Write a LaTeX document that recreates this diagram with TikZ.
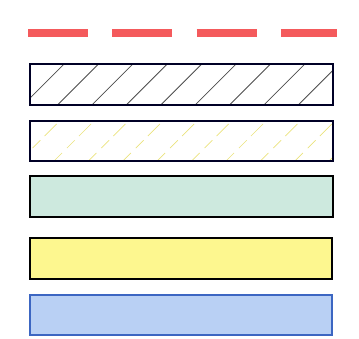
\documentclass[tikz,border=0pt]{standalone}
\begin{document}
\begin{tikzpicture}[x=1pt,y=-1pt,
  bar/.style={draw=black, line width=1.3pt},
  hatchline/.style={line width=0.8pt, draw=black!70},
  yhatch/.style={line width=0.7pt, draw=paleyline, dash pattern=on 17pt off 7pt on 11pt off 6pt},
]
\definecolor{dashred}{HTML}{F45A5C}
\definecolor{mint}{HTML}{CDE9DE}
\definecolor{paleyellow}{HTML}{FDF78F}
\definecolor{paleblue}{HTML}{B9D0F4}
\definecolor{edgeblue}{HTML}{3C66C2}
\definecolor{paleyline}{HTML}{EAE27C}
\useasboundingbox (0,0) rectangle (359,339);
% dashed red line
\coordinate (dl) at (28,33);
\coordinate (dr) at (337,33);
\draw[dashred, line width=8pt, dash pattern=on 60pt off 24.3pt] (dl) -- (dr);
% box 1: black hatch
\begin{scope}
  \clip (30,64) rectangle (333,105);
  \foreach \i in {-1,...,9} {
    \draw[hatchline] ({57.5+34.4*\i-4},109) -- ({57.5+34.4*\i+44},61);
  }
\end{scope}
\draw[bar, draw=black!85!blue] (30,64) rectangle (333,105);
% box 2: yellow dashed hatch
\begin{scope}
  \clip (30,121) rectangle (333,161);
  \foreach \i in {-1,...,9} {
    \draw[yhatch] ({58+34.4*\i-8},165) -- ({58+34.4*\i+40},117);
  }
\end{scope}
\draw[bar, draw=black!85!blue] (30,121) rectangle (333,161);
% box 3: mint
\draw[bar, fill=mint] (30,176) rectangle (333,217);
% box 4: pale yellow
\draw[bar, fill=paleyellow] (30,238) rectangle (332,279);
% box 5: pale blue
\draw[fill=paleblue, draw=edgeblue, line width=2.6pt] (30,295) rectangle (332,335);
\end{tikzpicture}
\end{document}
